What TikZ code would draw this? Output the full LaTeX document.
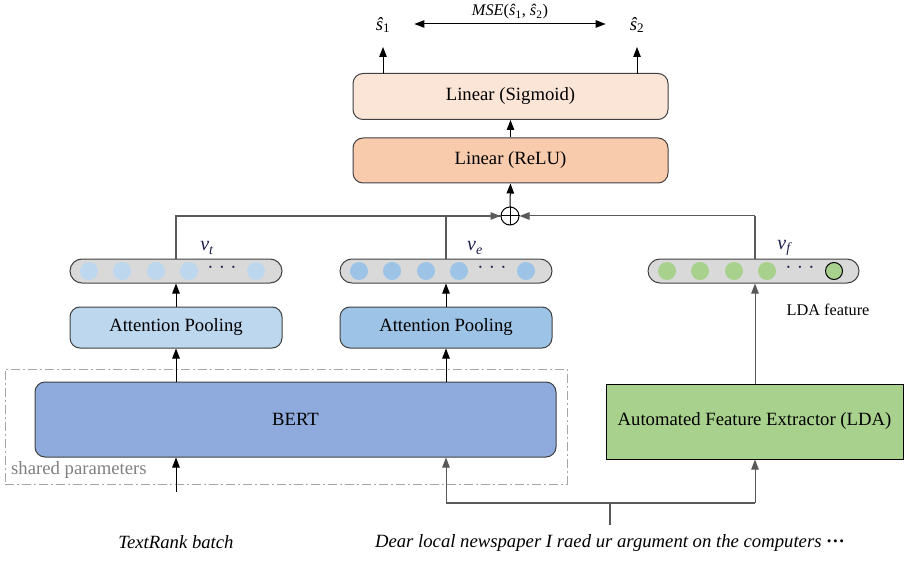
\documentclass[tikz,border=0pt]{standalone}
\usepackage{fontspec}
\setmainfont{Liberation Serif}
\usetikzlibrary{arrows.meta}
\definecolor{bordergray}{HTML}{404040}
\definecolor{linegray}{HTML}{595959}
\definecolor{sigfill}{HTML}{FBE5D6}
\definecolor{relufill}{HTML}{F8CBAD}
\definecolor{bertfill}{HTML}{8FAADC}
\definecolor{attAfill}{HTML}{BDD7EE}
\definecolor{attBfill}{HTML}{9DC3E6}
\definecolor{greenfill}{HTML}{A9D18E}
\definecolor{vecgray}{HTML}{D9D9D9}
\definecolor{navy}{HTML}{1F2050}
\definecolor{sharedgray}{HTML}{A6A6A6}
\newcommand\fsbig{\fontsize{18.7}{21}\selectfont}
\newcommand\fsmid{\fontsize{16.3}{19}\selectfont}
\newcommand\fsvlab{\fontsize{20}{22}\selectfont}
\begin{document}
\begin{tikzpicture}[x=1pt,y=-1pt,
  box/.style={draw=bordergray, line width=1pt, rounded corners=10pt, inner sep=0pt, font=\fsbig},
  sqbox/.style={draw=black, line width=1pt, inner sep=0pt, font=\fsbig},
  vec/.style={draw=bordergray, line width=1pt, fill=vecgray, rounded corners=12pt, minimum height=24pt, inner sep=0pt},
  dotc/.style={circle, minimum size=18pt, inner sep=0pt},
  vlab/.style={font=\fsvlab\itshape, text=navy, inner sep=0pt},
  arr/.style={-{Triangle[width=7.5pt,length=10pt]}, line width=1pt, draw=black},
  conn/.style={line width=1.2pt, draw=linegray},
  lbl/.style={font=\fsbig, inner sep=0pt}]
\useasboundingbox (0,0) rectangle (904,569);

% shared parameters frame
\node[draw=sharedgray, line width=1pt, dash pattern=on 9pt off 3pt on 2pt off 3pt,
      minimum width=562pt, minimum height=115pt, inner sep=0pt] (shared) at (286,426.5) {};
\node[anchor=west, font=\fsbig, text=gray, inner sep=0pt] (sharedlab) at (11,470) {shared parameters};

% top boxes
\node[box, fill=sigfill, minimum width=315pt, minimum height=46pt] (sig) at (510.5,96.5) {Linear (Sigmoid)};
\node[box, fill=relufill, minimum width=315pt, minimum height=45pt] (relu) at (510.5,160.5) {Linear (ReLU)};
\node[circle, draw=black, line width=1pt, minimum size=18pt, inner sep=0pt] (plus) at (510,216) {};
\draw[line width=1pt] (plus.north) -- (plus.south) (plus.west) -- (plus.east);

% outputs
\node[lbl, font=\fsbig\itshape] (s1) at (383,25) {ŝ\textsubscript{\upshape 1}};
\node[lbl, font=\fsbig\itshape] (s2) at (637,25) {ŝ\textsubscript{\upshape 2}};
\node[lbl, font=\fsmid] (mse) at (510,12) {\textit{MSE}(\textit{ŝ}\textsubscript{1}, \textit{ŝ}\textsubscript{2})};
\coordinate (a1) at (383,74);
\coordinate (a2) at (637,74);
\draw[arr] (a1) -- (383,47);
\draw[arr] (a2) -- (637,47);
\draw[{Triangle[width=7.5pt,length=10pt]}-{Triangle[width=7.5pt,length=10pt]}, line width=1pt]
  ([xshift=24pt]s1.east |- 0,24) -- ([xshift=-24pt]s2.west |- 0,24);

% vectors
\node[vec, minimum width=212pt] (vt) at (176,271) {};
\node[vec, minimum width=212pt] (ve) at (446,271) {};
\node[vec, minimum width=211pt] (vf) at (753.5,271) {};
\foreach \i/\x in {1/89,2/122,3/156,4/189,5/256} {
  \node[dotc, fill=attAfill] (vtc\i) at (\x,271) {};
}
\foreach \i/\x in {1/359,2/392,3/426,4/459,5/526} {
  \node[dotc, fill=attBfill] (vec\i) at (\x,271) {};
}
\foreach \i/\x in {1/667,2/700,3/734,4/767} {
  \node[dotc, fill=greenfill] (vfc\i) at (\x,271) {};
}
\node[dotc, fill=greenfill, draw=black, line width=1pt, minimum size=17pt] (vfc5) at (834,271) {};
\node[font=\fsbig, text=navy, inner sep=0pt] (vtd) at (222,270) {·\;·\;·};
\node[font=\fsbig, text=navy, inner sep=0pt] (ved) at (492,270) {·\;·\;·};
\node[font=\fsbig, text=navy, inner sep=0pt] (vfd) at (800,270) {·\;·\;·};
\node[vlab] (vtl) at (207,248) {v\textsubscript{t}};
\node[vlab] (vel) at (475,248) {v\textsubscript{e}};
\node[vlab] (vfl) at (784,248) {v\textsubscript{f}};
\node[font=\fsmid, inner sep=0pt] (ldafeat) at (828,310) {LDA feature};

% attention pooling
\node[box, fill=attAfill, minimum width=212pt, minimum height=41pt] (att1) at (176,327.5) {Attention Pooling};
\node[box, fill=attBfill, minimum width=212pt, minimum height=41pt] (att2) at (446,327.5) {Attention Pooling};

% BERT and LDA
\node[box, fill=bertfill, minimum width=521pt, minimum height=75pt] (bert) at (295.5,419.5) {BERT};
\node[sqbox, fill=greenfill, minimum width=297pt, minimum height=75pt] (lda) at (754.5,421.5) {Automated Feature Extractor (LDA)};

% inputs
\node[font=\fsbig\itshape, inner sep=0pt] (tr) at (176,542) {TextRank batch};
\node[font=\fsbig\itshape, inner sep=0pt] (dear) at (610,543) {Dear local newspaper I raed ur argument on the computers \textbf{\upshape ···}};
\coordinate (trtop) at (176,492);
\coordinate (deartop) at (610,525);
\coordinate (split) at (610,503);

% connectors
\draw[arr] (trtop) -- (bert.south -| trtop);
\draw[conn] (deartop) -- (split);
\draw[conn] (446,503) -- (755,503);
\draw[arr, draw=linegray] (446,503) -- (bert.south -| 446,0);
\draw[arr, draw=linegray] (755,503) -- (lda.south -| 755,0);

\draw[arr] (bert.north -| 176,0) -- (att1.south);
\draw[arr] (bert.north -| 446,0) -- (att2.south);
\draw[arr] (att1.north) -- (vt.south);
\draw[arr] (att2.north) -- (ve.south);
\draw[arr, draw=linegray] (lda.north -| 755,0) -- (vf.south -| 755,0);

\draw[conn] (vt.north) -- (176,216) -- (plus.west);
\draw[arr, draw=linegray] (176,216) -- (plus.west);
\draw[conn] (ve.north) -- (446,216);
\draw[conn] (vf.north -| 755,0) -- (755,216);
\draw[arr, draw=linegray] (755,216) -- (plus.east);
\draw[arr] (plus.north) -- (relu.south);
\draw[arr] (relu.north) -- (sig.south);
\end{tikzpicture}
\end{document}
